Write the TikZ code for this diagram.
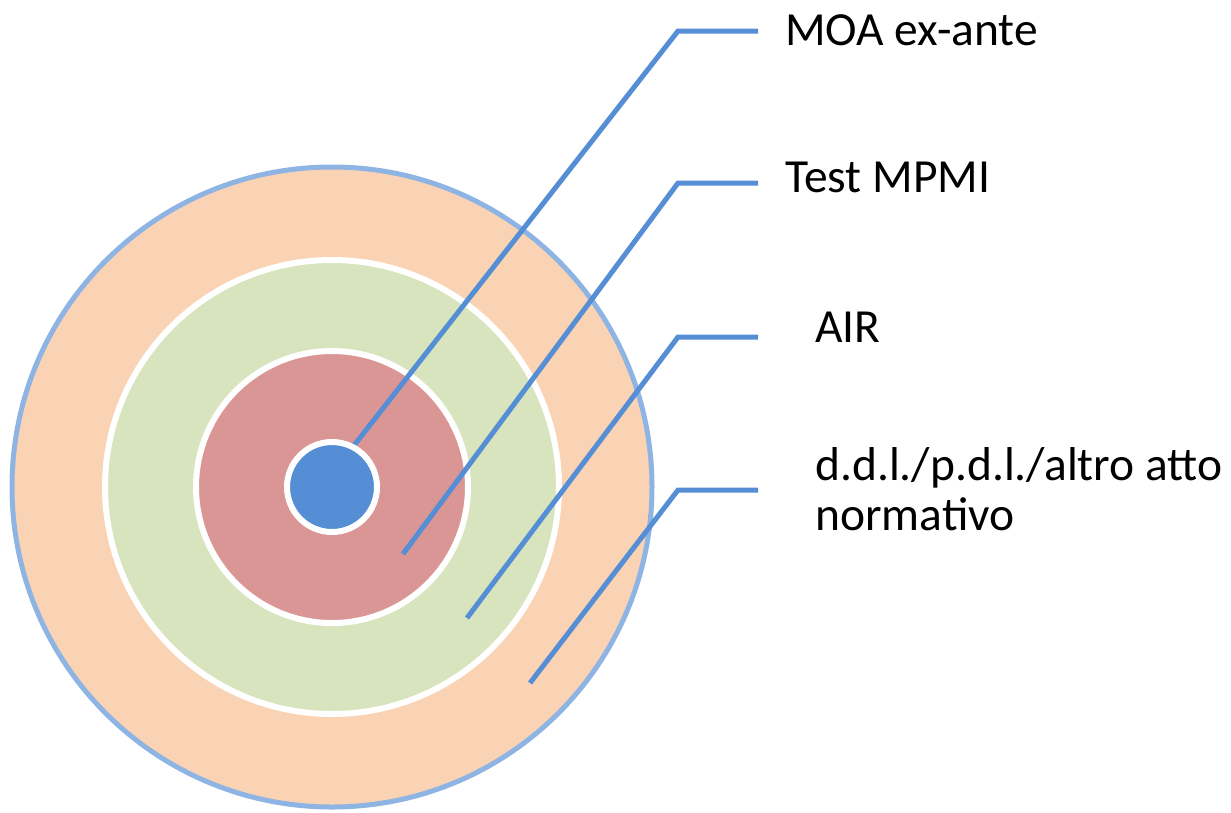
\documentclass[tikz,border=0pt]{standalone}
\usepackage{fontspec}
\setmainfont{Carlito}
\definecolor{ringpeach}{HTML}{FAD3B4}
\definecolor{ringedge}{HTML}{8EB4E3}
\definecolor{ringgreen}{HTML}{D7E4BD}
\definecolor{ringred}{HTML}{D99694}
\definecolor{coreblue}{HTML}{558ED5}
\definecolor{leader}{HTML}{558ED5}
\begin{document}
\begin{tikzpicture}[x=1pt,y=-1pt,
  ring/.style={circle,inner sep=0pt,outer sep=0pt,draw=white,line width=6pt},
  leaderline/.style={draw=leader,line width=5pt},
  lbl/.style={anchor=base west,inner sep=0pt,font=\fontsize{47.5}{50}\selectfont,align=left}]
  \useasboundingbox (0,0) rectangle (1231,812);

  % concentric rings
  \node[circle,inner sep=0pt,outer sep=0pt,fill=ringpeach,draw=ringedge,line width=5pt,minimum size=640pt] (outer) at (332,487) {};
  \node[ring,fill=ringgreen,minimum size=454pt] (mid) at (332,487) {};
  \node[ring,fill=ringred,minimum size=272pt] (inner) at (332,487) {};

  % leader anchor points
  \coordinate (p1) at (352,448);
  \coordinate (p2) at (403,554);
  \coordinate (p3) at (467,618);
  \coordinate (p4) at (530,683);
  \coordinate (e1) at (678,31);
  \coordinate (e2) at (678,183);
  \coordinate (e3) at (678,337);
  \coordinate (e4) at (678,490);
  \coordinate (h1) at (758,31);
  \coordinate (h2) at (758,183);
  \coordinate (h3) at (758,337);
  \coordinate (h4) at (758,490);

  \draw[leaderline] (p1) -- (e1) -- (h1);
  \draw[leaderline] (p2) -- (e2) -- (h2);
  \draw[leaderline] (p3) -- (e3) -- (h3);
  \draw[leaderline] (p4) -- (e4) -- (h4);

  % core
  \node[ring,fill=coreblue,minimum size=90pt] (core) at (332,487) {};

  % labels
  \node[lbl] (l1) at (785,45) {MOA ex-ante};
  \node[lbl] (l2) at (785,192) {Test MPMI};
  \node[lbl] (l3) at (815,342) {AIR};
  \node[lbl] (l4) at (815,530) {d.d.l./p.d.l./altro atto\\normativo};
\end{tikzpicture}
\end{document}
